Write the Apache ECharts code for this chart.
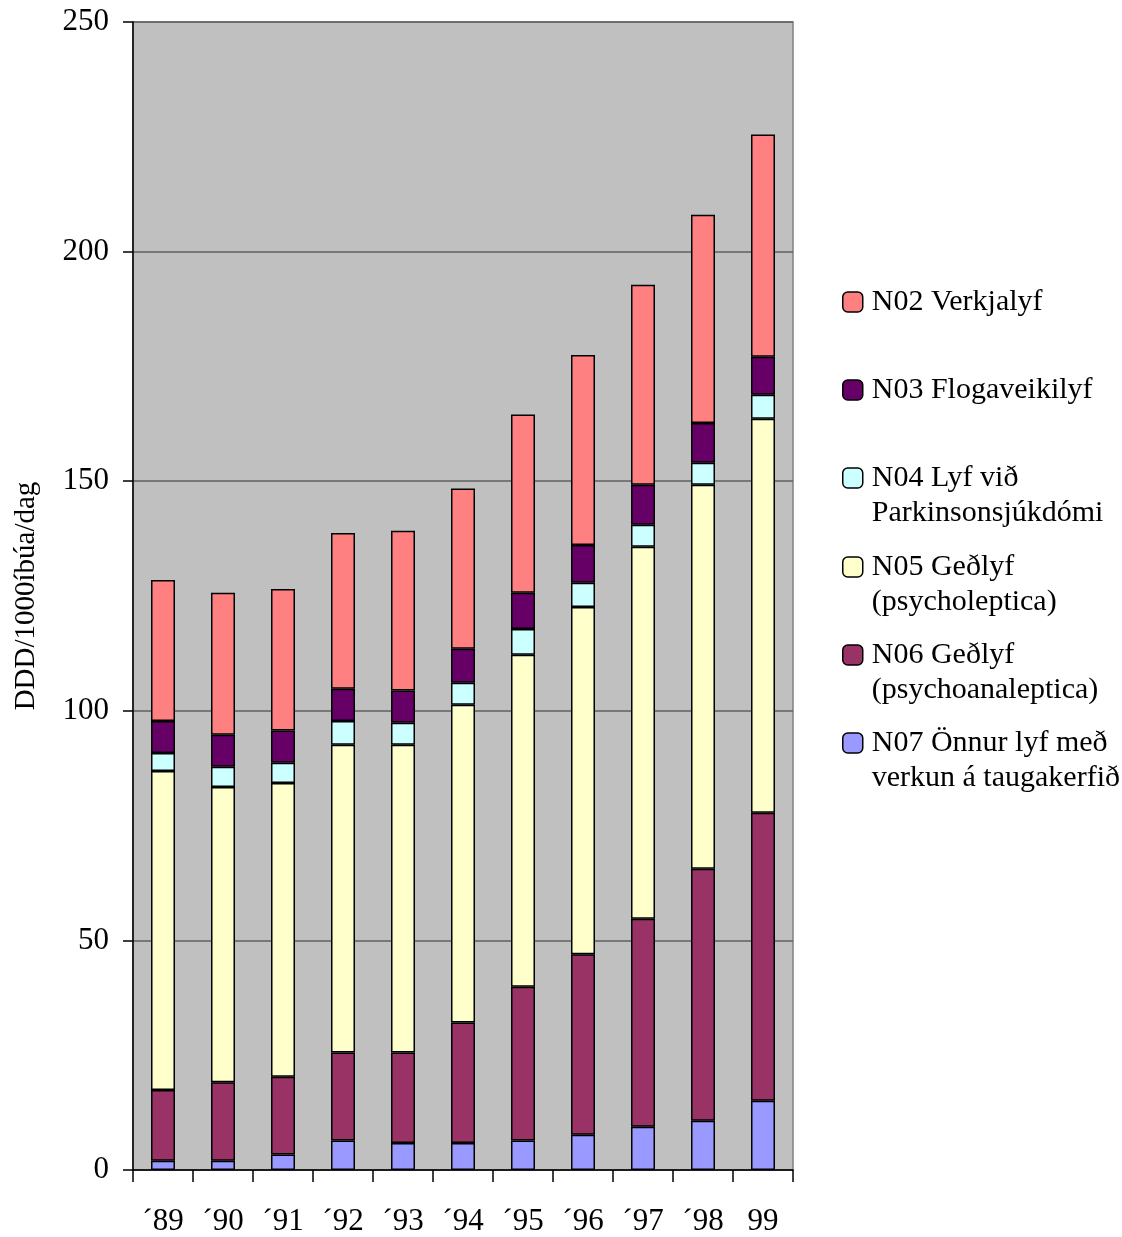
<!DOCTYPE html>
<html>
<head>
<meta charset="utf-8">
<script src="https://cdn.jsdelivr.net/npm/echarts@6/dist/echarts.min.js"></script>
<style>
html,body{margin:0;padding:0;background:#fff;}
#chart{width:1122px;height:1237px;}
</style>
</head>
<body>
<div id="chart"></div>
<script>
var categories = ['´89','´90','´91','´92','´93','´94','´95','´96','´97','´98','99'];
var n07 = [2.0, 2.0, 3.4, 6.4, 5.9, 5.9, 6.4, 7.7, 9.4, 10.7, 15.1];
var n06 = [15.4, 17.1, 16.9, 19.2, 19.7, 26.2, 33.5, 39.3, 45.3, 54.9, 62.7];
var n05 = [69.5, 64.3, 64.0, 67.0, 67.0, 69.2, 72.3, 75.6, 81.0, 83.6, 85.8];
var n04 = [3.9, 4.4, 4.4, 5.2, 4.8, 4.8, 5.6, 5.3, 4.8, 4.8, 5.2];
var n03 = [7.0, 7.0, 7.0, 7.0, 7.0, 7.4, 7.9, 8.2, 8.7, 8.7, 8.3];
var n02 = [30.7, 30.9, 30.8, 33.9, 34.8, 34.9, 38.8, 41.4, 43.6, 45.3, 48.4];
var yTicks = [0, 50, 100, 150, 200, 250];

var names = {
  n02: 'N02 Verkjalyf',
  n03: 'N03 Flogaveikilyf',
  n04: 'N04 Lyf við Parkinsonsjúkdómi',
  n05: 'N05 Geðlyf (psycholeptica)',
  n06: 'N06 Geðlyf (psychoanaleptica)',
  n07: 'N07 Önnur lyf með verkun á taugakerfið'
};
var legendText = {};
legendText[names.n02] = 'N02 Verkjalyf';
legendText[names.n03] = 'N03 Flogaveikilyf';
legendText[names.n04] = '\nN04 Lyf við\nParkinsonsjúkdómi';
legendText[names.n05] = '\nN05 Geðlyf\n(psycholeptica)';
legendText[names.n06] = '\nN06 Geðlyf\n(psychoanaleptica)';
legendText[names.n07] = '\nN07 Önnur lyf með\nverkun á taugakerfið';

var FONT = '"Liberation Serif", "Times New Roman", serif';

function mkSeries(name, data, color) {
  return {
    name: name, type: 'bar', stack: 'total', data: data,
    barWidth: 24,
    itemStyle: { color: color, borderColor: '#000', borderWidth: 1.5 },
    emphasis: { disabled: true }
  };
}

function mkLegend(name, top) {
  return {
    orient: 'vertical', left: 842, top: top, padding: 0,
    itemWidth: 20, itemHeight: 20, itemGap: 0,
    selectedMode: false,
    data: [name],
    formatter: function (n) { return legendText[n]; },
    textStyle: {
      fontFamily: FONT, fontSize: 30, color: '#000', lineHeight: 35,
      padding: [0, 0, 0, 4]
    },
    itemStyle: { borderColor: '#000', borderWidth: 1.5 }
  };
}

var chart = echarts.init(document.getElementById('chart'));
chart.setOption({
  animation: false,
  backgroundColor: '#fff',
  grid: {
    left: 133, right: 329, top: 22, bottom: 67,
    show: true, backgroundColor: '#C0C0C0', borderColor: '#808080', borderWidth: 1.5
  },
  legend: [
    mkLegend(names.n02, 284.5),
    mkLegend(names.n03, 372.5),
    mkLegend(names.n04, 425.5),
    mkLegend(names.n05, 514.5),
    mkLegend(names.n06, 602.5),
    mkLegend(names.n07, 690.5)
  ],
  xAxis: {
    type: 'category', data: categories,
    axisLine: { lineStyle: { color: '#000', width: 1.5 } },
    axisTick: { show: true, length: 12, lineStyle: { color: '#000', width: 1.5 } },
    axisLabel: { fontFamily: FONT, fontSize: 31, color: '#000', margin: 36 }
  },
  yAxis: {
    type: 'value', min: yTicks[0], max: yTicks[yTicks.length - 1], interval: 50,
    name: 'DDD/1000íbúa/dag', nameLocation: 'middle', nameGap: 92,
    nameTextStyle: { fontFamily: FONT, fontSize: 29, color: '#000' },
    axisLine: { show: true, lineStyle: { color: '#000', width: 1.5 } },
    axisTick: { show: true, length: 10, lineStyle: { color: '#000', width: 1.5 } },
    axisLabel: { fontFamily: FONT, fontSize: 31, color: '#000', margin: 24 },
    splitLine: { show: true, lineStyle: { color: '#606060', width: 1.5 } }
  },
  series: [
    mkSeries(names.n07, n07, '#9999FF'),
    mkSeries(names.n06, n06, '#993366'),
    mkSeries(names.n05, n05, '#FFFFCC'),
    mkSeries(names.n04, n04, '#CCFFFF'),
    mkSeries(names.n03, n03, '#660066'),
    mkSeries(names.n02, n02, '#FF8080')
  ]
});
</script>
</body>
</html>
